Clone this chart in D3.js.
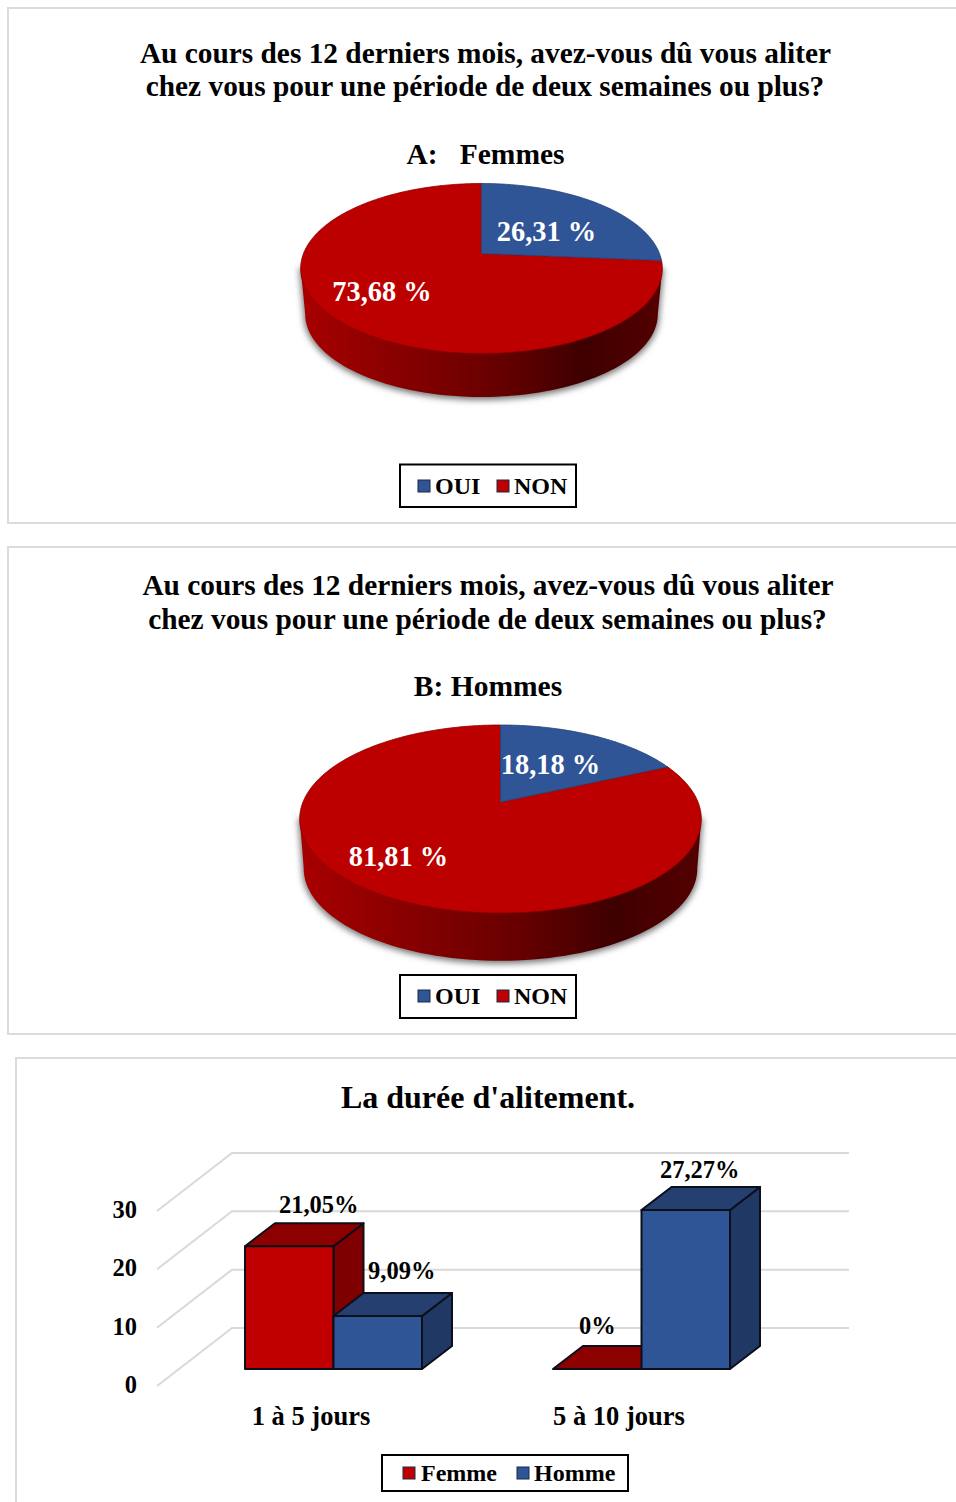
<!DOCTYPE html>
<html><head><meta charset="utf-8">
<script src="https://cdn.jsdelivr.net/npm/d3@7"></script>
<style>
html,body{margin:0;padding:0;background:#fff}
svg{display:block}
text{font-family:"Liberation Serif",serif;font-weight:bold;fill:#000}
</style></head><body>
<svg id="c" width="956" height="1502"></svg>
<script>
const titleLines = ["Au cours des 12 derniers mois, avez-vous dû vous aliter","chez vous pour une période de deux semaines ou plus?"];
const pieCategories = ["OUI","NON"];
const femmesValues = [26.31,73.68];
const hommesValues = [18.18,81.81];
const femmesLabels = ["26,31 %","73,68 %"];
const hommesLabels = ["18,18 %","81,81 %"];
const barCategories = ["1 à 5 jours","5 à 10 jours"];
const barSeries = ["Femme","Homme"];
const femmeBars = [21.05,0];
const hommeBars = [9.09,27.27];
const femmeBarLabels = ["21,05%","0%"];
const hommeBarLabels = ["9,09%","27,27%"];
const yTicks = [0,10,20,30];

const RED="#c00000", PIE_RED="#bc0000", BLUE="#2f5597";
const svg=d3.select("#c");
const defs=svg.append("defs");
defs.append("filter").attr("id","soft").attr("x","-10%").attr("y","-10%").attr("width","120%").attr("height","130%")
  .append("feGaussianBlur").attr("stdDeviation",3);
const grad=defs.append("linearGradient").attr("id","sideRed");
[[0,"#a80000"],[0.3,"#840000"],[0.55,"#660000"],[0.78,"#3f0000"],[1,"#540000"]].forEach(([o,c])=>
  grad.append("stop").attr("offset",o).attr("stop-color",c));

function frame(x,y0,y1){
  const p=[[956,y0],[x,y0],[x,y1]];
  if(y1<1502)p.push([956,y1]);
  svg.append("path").attr("d",d3.line()(p)).attr("fill","none").attr("stroke","#dcdcdc").attr("stroke-width",2);
}
function text(s,x,y,size,anchor,fill){
  const t=svg.append("text").attr("x",x).attr("y",y).attr("font-size",size)
    .attr("text-anchor",anchor||"middle").attr("xml:space","preserve").style("white-space","pre").text(s);
  if(fill)t.style("fill",fill);
  return t;
}
function legend(box,items){
  svg.append("rect").attr("x",box[0]).attr("y",box[1]).attr("width",box[2]).attr("height",box[3])
    .attr("fill","#fff").attr("stroke","#000").attr("stroke-width",2);
  items.forEach(it=>{
    svg.append("rect").attr("x",it.sx).attr("y",it.sy).attr("width",12).attr("height",12)
      .attr("fill",it.color).attr("stroke","#1c2a44").attr("stroke-width",1);
    text(it.label,it.tx,it.ty,24,"start");
  });
}
function pie3d(values,labels,g){
  // perspective projection of the unit disc: apex is the projected centre
  const k=(g.back-g.front)/(g.back+g.front);
  const b=g.front*(1+k);
  const proj=(ang,sa,sb,dy)=>{
    const c=Math.sin(ang), t=-Math.cos(ang), w=1+k*t;
    return [g.cx+sa*g.a*c/w, g.cy+dy+sb*b*t/w];
  };
  const line=d3.line();
  const circle=(sa,sb,dy)=>d3.range(0,361,2).map(d=>proj(d*Math.PI/180,sa,sb,dy));
  const ext=(pts)=>[d3.least(pts,p=>p[0]),d3.least(pts,p=>-p[0])];
  const top=circle(1,1,0), bot=circle(g.shrink,g.shrink,g.depth);
  const [tl,tr]=ext(top),[bl,br]=ext(bot);
  const lowerBot=bot.filter(p=>p[1]>=bl[1]-0.01).sort((p,q)=>p[0]-q[0]);
  const side=[tl,bl,...lowerBot,br,tr];
  // soft shadow
  svg.append("path").attr("d",line(side)+"Z").attr("transform","translate(0,1.5)").attr("fill","#777")
    .attr("stroke","#777").attr("stroke-width",3).attr("filter","url(#soft)");
  svg.append("path").attr("d",line(side)+"Z").attr("fill","url(#sideRed)");
  const arcs=d3.pie().sort(null)(values);
  // keep the whole circle closed despite rounded inputs
  arcs[arcs.length-1].endAngle=2*Math.PI;
  const colors=[BLUE,PIE_RED];
  arcs.slice().reverse().forEach(a=>{
    const i=a.index;
    const n=Math.ceil((a.endAngle-a.startAngle)/0.02);
    const pts=[[g.cx,g.cy],...d3.range(n+1).map(j=>proj(a.startAngle+(a.endAngle-a.startAngle)*j/n,1,1,0))];
    svg.append("path").attr("d",line(pts)+"Z").attr("fill",colors[i])
      .attr("stroke",i==0?"#24417a":"#8a0000").attr("stroke-width",0.8);
  });
  labels.forEach((s,i)=>text(s,g.lab[i][0],g.lab[i][1],28.4,"middle","#fff"));
}

// Panel A
frame(8,8,523);
text(titleLines[0],485.5,63,29.35);
text(titleLines[1],485,96,29.35);
text("A:   Femmes",485.5,164,29.5);
pie3d(femmesValues,femmesLabels,{cx:481.5,cy:253.5,a:178,front:100,back:70,depth:46,shrink:0.975,lab:[[546.5,240.5],[382,300.5]]});
legend([400,464.5,176,42.5],[
 {sx:418,sy:480,color:BLUE,label:pieCategories[0],tx:435,ty:494},
 {sx:497,sy:480,color:RED,label:pieCategories[1],tx:514,ty:494}]);

// Panel B
frame(8,547,1034);
text(titleLines[0],488,595,29.35);
text(titleLines[1],487.5,629,29.35);
text("B: Hommes",488,696,29.5);
pie3d(hommesValues,hommesLabels,{cx:500.5,cy:802,a:197.5,front:111,back:77,depth:50,shrink:0.98,lab:[[550.5,773.5],[398.5,865.5]]});
legend([400,975,176,43],[
 {sx:418,sy:990,color:BLUE,label:pieCategories[0],tx:435,ty:1004},
 {sx:497,sy:990,color:RED,label:pieCategories[1],tx:514,ty:1004}]);

// Panel C
frame(16,1058,1503);
text("La durée d'alitement.",488,1108,32);
const y=d3.scaleLinear().domain([0,30]).range([0,-175]);
const backY=1328, frontY=1386, barBase=1369, depthX=30, depthY=23;
const gridL=157, gridM=232, gridR=849;
yTicks.forEach(t=>{
  const d=y(t);
  svg.append("path").attr("d",d3.line()([[gridL,frontY+d],[gridM,backY+d],[gridR,backY+d]]))
    .attr("fill","none").attr("stroke","#d9d9d9").attr("stroke-width",2);
  text(String(t),137,frontY+d+7,24.5,"end");
});
const x0=d3.scaleBand().domain(barCategories).range([180,796]);
const x1=d3.scaleBand().domain(barSeries).range([65,242]);
const barStyle={Femme:{front:RED,top:"#8c0000",side:"#7f0000"},Homme:{front:BLUE,top:"#243f70",side:"#203864"}};
const labelOffset={ "0-Femme":[29.5,-33.5], "0-Homme":[24,-36.5], "1-Femme":[0,-35], "1-Homme":[14,-32] };
const poly=(pts,fill)=>svg.append("path").attr("d",d3.line()(pts)+"Z").attr("fill",fill)
  .attr("stroke","#0a0f1a").attr("stroke-width",2).attr("stroke-linejoin","round");
const labels=[];
barCategories.forEach((cat,ci)=>{
  barSeries.forEach((ser,si)=>{
    const v=(si==0?femmeBars:hommeBars)[ci];
    const l=x0(cat)+x1(ser), r=l+x1.bandwidth(), ty=barBase+y(v), st=barStyle[ser];
    if(v>0){
      poly([[r,ty],[r+depthX,ty-depthY],[r+depthX,barBase-depthY],[r,barBase]],st.side);
    }
    poly([[l,ty],[l+depthX,ty-depthY],[r+depthX,ty-depthY],[r,ty]],st.top);
    if(v>0) poly([[l,ty],[r,ty],[r,barBase],[l,barBase]],st.front);
    const off=labelOffset[ci+"-"+ser];
    labels.push([(si==0?femmeBarLabels:hommeBarLabels)[ci],(l+r)/2+off[0],ty+off[1]]);
  });
});
// the second bar of each pair is drawn last, so its labels sit above everything
labels.forEach(l=>text(l[0],l[1],l[2],24.5));
barCategories.forEach(c=>text(c,x0(c)+x0.bandwidth()/2-23,1425,26.5));
legend([382,1455,246,36],[
 {sx:403,sy:1467,color:RED,label:barSeries[0],tx:421,ty:1480.5},
 {sx:517,sy:1467,color:BLUE,label:barSeries[1],tx:534,ty:1480.5}]);
</script></body></html>
